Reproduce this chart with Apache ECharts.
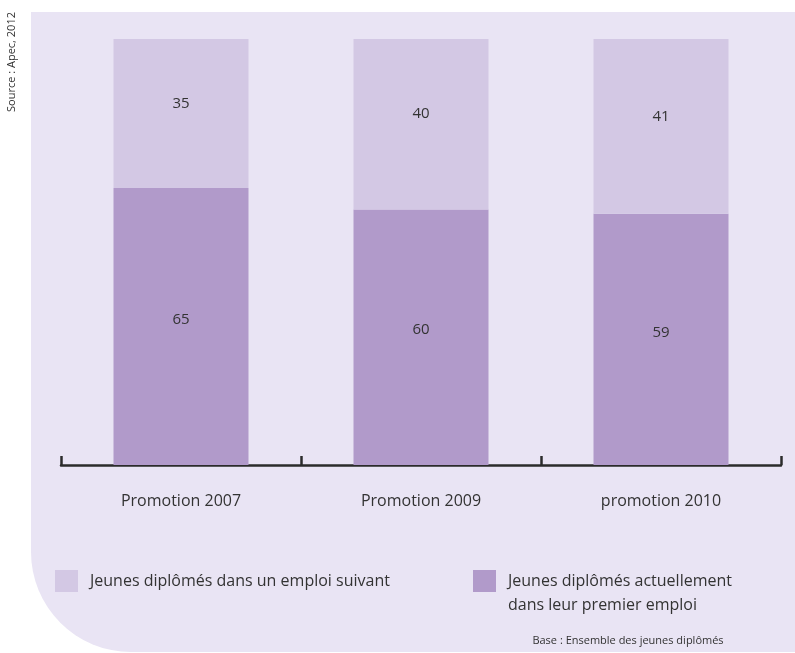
<!DOCTYPE html>
<html>
<head>
<meta charset="utf-8">
<script src="https://cdn.jsdelivr.net/npm/echarts@6/dist/echarts.min.js"></script>
<style>
  html, body { margin: 0; padding: 0; background: #ffffff; }
  #chart { width: 795px; height: 653px; }
</style>
</head>
<body>
<div id="chart"></div>
<script>
// Share of young graduates still in their first job vs. in a later job (%)
const categories = ['Promotion 2007', 'Promotion 2009', 'promotion 2010'];
const firstJob = [65, 60, 59];
const laterJob = [35, 40, 41];
const firstJobName = 'Jeunes diplômés actuellement dans leur premier emploi';
const laterJobName = 'Jeunes diplômés dans un emploi suivant';

const FONT = '"Open Sans", "Noto Sans", sans-serif';
const TEXT = '#333333';

const chart = echarts.init(document.getElementById('chart'), null, { renderer: 'canvas' });

chart.setOption({
  animation: false,
  backgroundColor: '#ffffff',
  graphic: [
    {
      type: 'rect', z: -10, silent: true,
      shape: { x: 31, y: 12, width: 780, height: 640, r: [0, 0, 0, 100] },
      style: { fill: '#e9e4f4' }
    },
    {
      type: 'text', silent: true,
      x: 12, y: 62, rotation: Math.PI / 2,
      style: { text: 'Source : Apec, 2012', font: '11px "Open Sans", sans-serif', fill: TEXT, align: 'center', verticalAlign: 'middle' }
    },
    {
      type: 'text', silent: true,
      x: 628, y: 641,
      style: { text: 'Base : Ensemble des jeunes diplômés', font: '11px "Open Sans", sans-serif', fill: TEXT, align: 'center', verticalAlign: 'middle' }
    }
  ],
  grid: { left: 61, right: 14, top: 39, bottom: 188, containLabel: false },
  legend: [
    {
      data: [laterJobName],
      left: 55, top: 570, padding: 0,
      itemWidth: 23, itemHeight: 22, itemGap: 12,
      icon: 'rect',
      selectedMode: false,
      textStyle: { fontFamily: FONT, fontSize: 16, color: TEXT, padding: [0, 0, 0, 7] }
    },
    {
      data: [firstJobName],
      left: 473, top: 545, padding: 0,
      itemWidth: 23, itemHeight: 22,
      icon: 'rect',
      selectedMode: false,
      // leading blank line keeps the swatch level with the first line of text
      formatter: () => '{e| }\nJeunes diplômés actuellement\ndans leur premier emploi',
      textStyle: {
        fontFamily: FONT, fontSize: 16, color: TEXT, lineHeight: 24,
        padding: [0, 0, 0, 7],
        rich: { e: { fontSize: 16, lineHeight: 24 } }
      }
    }
  ],
  xAxis: {
    type: 'category',
    data: categories,
    boundaryGap: true,
    axisLine: { lineStyle: { color: '#2b2b2b', width: 2.5 } },
    axisTick: { show: true, inside: true, length: 9, interval: 0, lineStyle: { color: '#2b2b2b', width: 2.5 } },
    axisLabel: { margin: 28, fontFamily: FONT, fontSize: 16, color: TEXT }
  },
  yAxis: {
    type: 'value', min: 0, max: 100, show: false,
    splitLine: { show: false }
  },
  series: [
    {
      name: firstJobName,
      type: 'bar',
      stack: 'total',
      barWidth: 135,
      data: firstJob,
      itemStyle: { color: '#b19aca' },
      label: { show: true, position: 'inside', offset: [0, -7], fontFamily: FONT, fontSize: 15, color: TEXT }
    },
    {
      name: laterJobName,
      type: 'bar',
      stack: 'total',
      barWidth: 135,
      data: laterJob,
      itemStyle: { color: '#d3c8e4' },
      label: { show: true, position: 'inside', offset: [0, -10], fontFamily: FONT, fontSize: 15, color: TEXT }
    }
  ]
});
</script>
</body>
</html>
